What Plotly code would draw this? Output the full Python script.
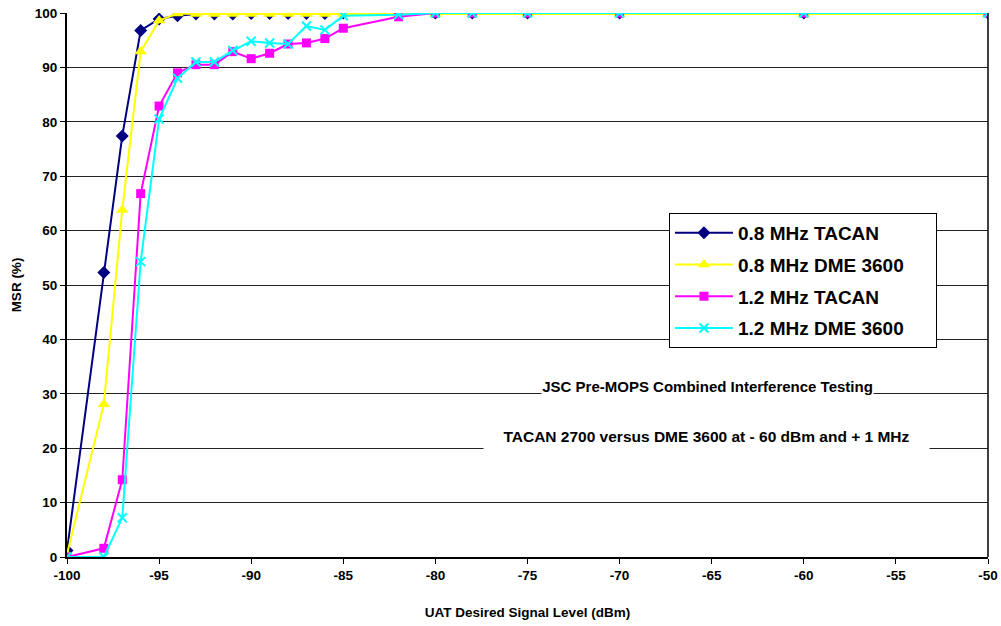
import plotly.graph_objects as go

x_vals = [-100, -98, -97, -96, -95, -94, -93, -92, -91, -90, -89, -88, -87, -86, -85, -82, -80, -78, -75, -70, -60, -50]

tacan_08 = [1.2, 52.3, 77.4, 96.8, 98.9, 99.5, 99.8, 99.8, 99.8, 99.9, 99.9, 99.9, 99.9, 99.9, 100, 100, 100, 100, 100, 100, 100, 100]
dme_08 = [0.5, 28.1, 63.8, 92.9, 98.6, 99.9, 99.8, 99.8, 99.8, 99.8, 99.8, 99.8, 99.8, 99.8, 99.8, 99.8, 99.8, 99.8, 99.8, 99.8, 99.8, 99.8]
tacan_12 = [0, 1.6, 14.2, 66.8, 82.9, 89.0, 90.5, 90.5, 92.9, 91.6, 92.6, 94.3, 94.5, 95.3, 97.2, 99.3, 100, 100, 100, 100, 100, 100]
dme_12 = [0, 0, 7.2, 54.3, 80.5, 88.0, 91.0, 91.0, 93.1, 94.8, 94.5, 94.3, 97.6, 96.9, 99.5, 99.7, 100, 100, 100, 100, 100, 100]

series_names = ["0.8 MHz TACAN", "0.8 MHz DME 3600", "1.2 MHz TACAN", "1.2 MHz DME 3600"]
x_ticks = [-100, -95, -90, -85, -80, -75, -70, -65, -60, -55, -50]
y_ticks = [0, 10, 20, 30, 40, 50, 60, 70, 80, 90, 100]

styles = [
    dict(color="#000080", symbol="diamond", size=10),
    dict(color="#FFFF00", symbol="triangle-up", size=11),
    dict(color="#FF00FF", symbol="square", size=9),
    dict(color="#00FFFF", symbol="x-thin", size=9),
]

pad = "\u00a0" * 5

fig = go.Figure()
for i, (name, ys) in enumerate(zip(series_names, [tacan_08, dme_08, tacan_12, dme_12])):
    st = styles[i]
    marker = dict(color=st["color"], symbol=st["symbol"], size=st["size"])
    if st["symbol"] == "x-thin":
        marker["line"] = dict(color=st["color"], width=2)
    fig.add_trace(go.Scatter(
        x=x_vals, y=ys, name=name + pad, mode="lines+markers",
        line=dict(color=st["color"], width=2),
        marker=marker, legendgroup=f"g{i}",
    ))

font_family = "Liberation Sans, Arial, sans-serif"

fig.update_layout(
    width=1001, height=626,
    margin=dict(l=67, r=13, t=13, b=69, autoexpand=False),
    paper_bgcolor="white", plot_bgcolor="white",
    font=dict(family=font_family, color="black"),
    showlegend=True,
    legend=dict(
        x=0.6536, y=0.6324, xanchor="left", yanchor="top",
        bgcolor="white", bordercolor="black", borderwidth=1,
        font=dict(size=19, family=font_family, weight="bold"),
        tracegroupgap=4, itemwidth=58,
    ),
    xaxis=dict(
        range=[-100, -50], tickvals=x_ticks, ticktext=[str(v) for v in x_ticks],
        showgrid=False, zeroline=False, automargin=False,
        showline=True, linecolor="black", linewidth=2,
        ticks="outside", ticklen=5, tickcolor="black",
        tickfont=dict(size=13.5, family=font_family, weight="bold"),
        title=dict(text="UAT Desired Signal Level (dBm)", standoff=25,
                   font=dict(size=13.5, family=font_family, weight="bold")),
    ),
    yaxis=dict(
        range=[0, 100], tickvals=y_ticks,
        showgrid=True, gridcolor="#222222", gridwidth=1, zeroline=False, automargin=False,
        showline=True, linecolor="black", linewidth=2,
        ticks="outside", ticklen=5, tickcolor="black",
        tickfont=dict(size=13.5, family=font_family, weight="bold"),
        title=dict(text="MSR (%)", standoff=10,
                   font=dict(size=13.5, family=font_family, weight="bold")),
    ),
)

# right border line of plot area
fig.add_shape(type="line", xref="paper", yref="paper", x0=1, x1=1, y0=0, y1=1,
              line=dict(color="black", width=1.5))

fig.add_annotation(
    x=-65.25, y=31.4, xref="x", yref="y", showarrow=False,
    text="JSC Pre-MOPS Combined Interference Testing",
    font=dict(size=15, family=font_family, weight="bold"),
    bgcolor="white", width=331, height=20, borderpad=0,
)
fig.add_annotation(
    x=-65.3, y=22.2, xref="x", yref="y", showarrow=False,
    text="TACAN 2700 versus DME 3600 at - 60 dBm and + 1 MHz",
    font=dict(size=15.5, family=font_family, weight="bold"),
    bgcolor="white", width=445, height=28, borderpad=0,
)

fig.write_html("out.html", config={"displayModeBar": False},
               post_script="document.body.style.margin='0';document.body.style.overflow='hidden';")
